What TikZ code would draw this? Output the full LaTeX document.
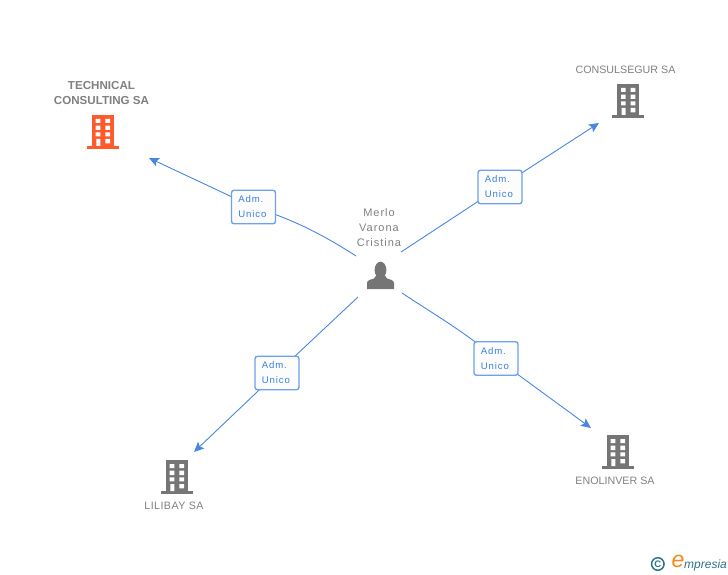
\documentclass[tikz,border=0pt]{standalone}
\usepackage{fontspec}
\setmainfont{Liberation Sans}
\newfontfamily\lblfont[LetterSpace=0]{Liberation Sans}
\newfontfamily\lilifont[LetterSpace=4]{Liberation Sans}
\newfontfamily\merlofont[LetterSpace=9]{Liberation Sans}
\newfontfamily\boxfont[LetterSpace=9]{Liberation Sans}
\usetikzlibrary{arrows.meta,backgrounds}
\definecolor{lblgray}{HTML}{808080}
\definecolor{icongray}{HTML}{757575}
\definecolor{iconred}{HTML}{FF5A2B}
\definecolor{linkblue}{HTML}{4A86E0}
\definecolor{boxblue}{HTML}{6EA1EA}
\definecolor{boxtext}{HTML}{3B7FE0}
\definecolor{logoteal}{HTML}{2F7488}
\definecolor{logoorange}{HTML}{F08A1D}
\tikzset{
  x=1pt,y=-1pt,
  rolebox/.style={draw=boxblue,line width=1.4pt,rounded corners=2.5pt,fill=white!99!black,
    minimum width=44pt,minimum height=33.5pt,inner sep=0pt},
  roletext/.style={inner sep=0pt,anchor=west,text=boxtext,align=left,
    font=\boxfont\fontsize{9.6}{15}\selectfont},
  namelabel/.style={align=center,text=lblgray,inner sep=0pt,font=\lblfont\fontsize{10.7}{15}\selectfont},
  lililabel/.style={align=center,text=lblgray,inner sep=0pt,font=\lilifont\fontsize{10.7}{15}\selectfont},
  merlolabel/.style={align=center,text=lblgray,inner sep=0pt,font=\merlofont\fontsize{11}{15}\selectfont},
  boldlabel/.style={align=center,text=lblgray,inner sep=0pt,font=\bfseries\fontsize{11.6}{15}\selectfont},
  link/.style={draw=linkblue,line width=0.9pt},
  linkarrow/.style={link,-{Stealth[length=10pt,width=9pt,inset=2pt]}},
  pics/building/.style={code={
    \fill[#1] (-11,-34) rectangle (11,-3);
    \fill[#1] (-16,-3) rectangle (16,0);
    \fill[white] (-7.3,-30) rectangle (-2.7,-26) (2.4,-30) rectangle (7,-26)
                 (-7.3,-23.4) rectangle (-2.7,-19) (2.4,-23.4) rectangle (7,-19)
                 (-7.3,-16.7) rectangle (-2.7,-12.7) (2.4,-16.7) rectangle (7,-12.7)
                 (-6.6,-10) rectangle (-2.7,-3) (2.4,-10) rectangle (7,-5.7);
  }}
}
\begin{document}
\begin{tikzpicture}
\useasboundingbox (0,0) rectangle (728,575);
% buildings
\pic at (103,149) {building=iconred};
\pic at (628.3,118) {building=icongray};
\pic at (618,469) {building=icongray};
\pic at (177,494) {building=icongray};
% person
\fill[icongray] (380.5,270) ellipse (5.9 and 8.3);
\fill[icongray] (367,289) -- (367,283) .. controls (367,280) and (371,279.5) .. (374,278.5)
   -- (376.5,275) -- (384.5,275) -- (387,278.5) .. controls (390,279.5) and (394,280) .. (394,283)
   -- (394,289) -- cycle;
% labels
\node[boldlabel] (tech) at (101.5,93) {TECHNICAL\\CONSULTING SA};
\node[namelabel] (cons) at (625.5,70) {CONSULSEGUR SA};
\node[namelabel] (enol) at (615,481) {ENOLINVER SA};
\node[lililabel] (lili) at (174,506) {LILIBAY SA};
\node[merlolabel] (merlo) at (379,228) {Merlo\\Varona\\Cristina};
% role boxes
\node[rolebox] (boxA) at (253.5,207) {};
\node[rolebox] (boxB) at (500,187) {};
\node[rolebox] (boxC) at (496,358.5) {};
\node[rolebox] (boxD) at (277,373) {};
\node[roletext] (txtA) at (238.2,207) {Adm.\\Unico};
\node[roletext] (txtB) at (484.7,187) {Adm.\\Unico};
\node[roletext] (txtC) at (480.7,358.5) {Adm.\\Unico};
\node[roletext] (txtD) at (261.7,373) {Adm.\\Unico};
% connector ends
\coordinate (sA) at (356,256);
\coordinate (sB) at (401,252);
\coordinate (sC) at (402,293);
\coordinate (sD) at (358,297);
\coordinate (tA) at (149,158);
\coordinate (tB) at (599,123);
\coordinate (tC) at (591,428);
\coordinate (tD) at (194,452);
\begin{scope}[on background layer]
  \draw[link] (sA) .. controls (325,236) and (295,220) .. (boxA.center);
  \draw[linkarrow] (boxA.center) -- (tA);
  \draw[link] (sB) -- (boxB.center);
  \draw[linkarrow] (boxB.center) -- (tB);
  \draw[link] (sC) .. controls (432,313) and (465,332) .. (boxC.center);
  \draw[linkarrow] (boxC.center) -- (tC);
  \draw[link] (sD) -- (boxD.center);
  \draw[linkarrow] (boxD.center) -- (tD);
\end{scope}
% logo
\node[inner sep=0pt,draw=logoteal,line width=1.5pt,circle,minimum size=12.5pt] (copyring) at (657.8,564) {};
\node[inner sep=0pt,text=logoteal,font=\bfseries\fontsize{9.5}{10}\selectfont] (copy) at (657.8,564) {C};
\node[inner sep=0pt,text=logoorange,font=\itshape\fontsize{23}{23}\selectfont] (loge) at (678,561.5) {e};
\node[inner sep=0pt,anchor=base west,text=logoteal,font=\itshape\fontsize{12}{13}\selectfont] (logt) at (684,568) {mpresia};
\end{tikzpicture}
\end{document}
